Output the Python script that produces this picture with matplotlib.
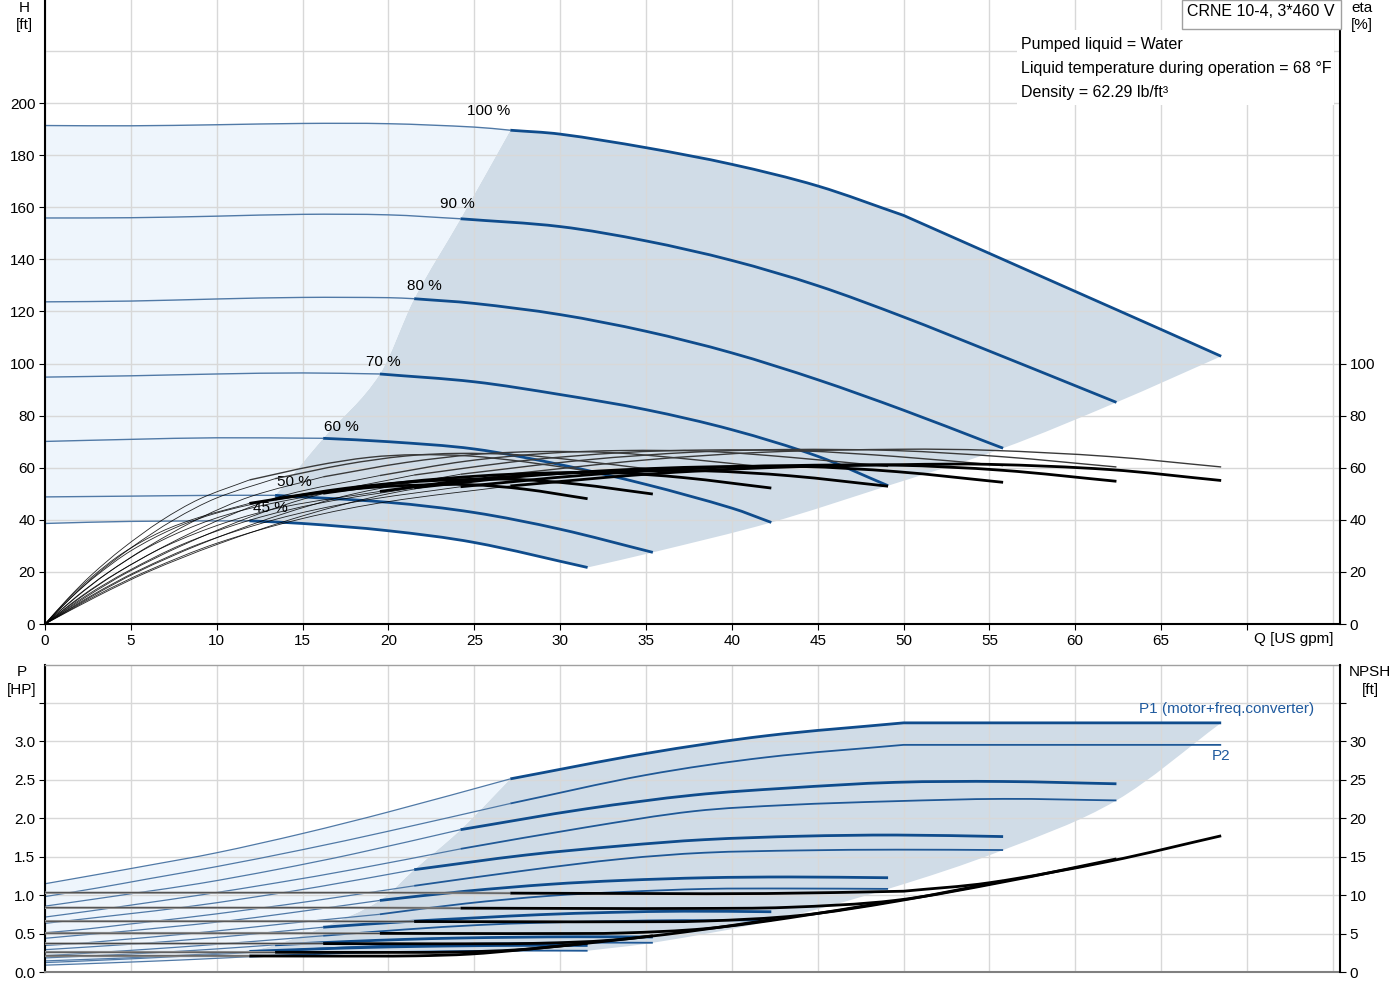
import matplotlib
matplotlib.use('Agg')
import matplotlib.pyplot as plt
from matplotlib.patches import Rectangle, PathPatch
from matplotlib.path import Path
import numpy as np

plt.rcParams['font.family'] = ['Liberation Sans', 'DejaVu Sans']
plt.rcParams['font.size'] = 10.5

# ---------------- data ----------------
speeds = ['100 %', '90 %', '80 %', '70 %', '60 %', '50 %', '45 %']
q_start = [27.1, 24.2, 21.5, 19.5, 16.2, 13.4, 11.9]
q_end = [68.5, 62.4, 55.8, 49.1, 42.3, 35.4, 31.6]
q_limit = 50  # power limit reached on the 100 % curve

# pump head curves H [ft] vs Q [US gpm]
Q_h100 = [0, 5, 10, 15, 20, 25, 27.1, 30, 35, 40, 45, 50, 55, 60, 65, 68.5]
H_100 = [191.4, 191.3, 191.7, 192.2, 192.1, 190.8, 189.6, 188.1, 182.9, 176.5, 168.2, 156.9, 142.3, 127.7, 113.1, 102.8]
Q_h90 = [0, 5, 10, 15, 20, 24.2, 30, 35, 40, 45, 50, 55, 60, 62.4]
H_90 = [155.9, 156.0, 156.6, 157.3, 157.1, 155.6, 152.6, 147.1, 139.6, 129.9, 117.9, 104.8, 91.5, 85.1]
Q_h80 = [0, 5, 10, 15, 20, 21.5, 25, 30, 35, 40, 45, 50, 55, 55.8]
H_80 = [123.7, 124.0, 124.8, 125.4, 125.3, 124.9, 123.1, 118.8, 112.4, 104.1, 93.8, 82.1, 69.5, 67.5]
Q_h70 = [0, 5, 10, 15, 19.5, 25, 30, 35, 40, 45, 49.1]
H_70 = [94.8, 95.3, 96.0, 96.4, 96.0, 93.0, 88.1, 82.3, 74.6, 64.4, 53.1]
Q_h60 = [0, 5, 10, 16.2, 20, 25, 30, 35, 40, 42.3]
H_60 = [70.1, 70.9, 71.5, 71.3, 70.0, 67.2, 61.2, 53.6, 44.5, 39.0]
Q_h50 = [0, 5, 10, 13.4, 20, 25, 30, 35.4]
H_50 = [48.8, 49.1, 49.4, 49.4, 46.7, 42.8, 36.4, 27.5]
Q_h45 = [0, 5, 11.9, 15, 20, 25, 31.6]
H_45 = [38.6, 39.4, 39.6, 38.6, 35.8, 31.3, 21.7]

# flow points for efficiency / power / NPSH curves
Q_g100 = [0, 3, 6, 10, 15, 20, 27.1, 35, 42, 50, 55, 62, 68.5]
Q_g90 = [0, 2.7, 5.4, 9, 13.5, 18, 24.2, 31.5, 37.8, 43.2, 49.5, 55.8, 62.4]
Q_g80 = [0, 2.4, 4.8, 8, 12, 16, 21.5, 28, 33.6, 38.4, 44, 49.6, 55.8]
Q_g70 = [0, 2.1, 4.2, 7, 10.5, 14, 19.5, 24.5, 29.4, 33.6, 38.5, 43.4, 49.1]
Q_g60 = [0, 1.8, 3.6, 6, 9, 12, 16.2, 21, 25.2, 28.8, 33, 37.2, 42.3]
Q_g50 = [0, 1.5, 3, 5, 7.5, 10, 13.4, 17.5, 21, 24, 27.5, 31, 35.4]
Q_g45 = [0, 1.35, 2.7, 4.5, 6.75, 9, 11.9, 15.75, 18.9, 21.6, 24.75, 27.9, 31.6]

# pump efficiency [%]
eta_p100 = [0, 10.5, 20, 30.5, 41.5, 50, 57.6, 63, 66, 67.1, 66.7, 64.3, 60.3]
eta_p90 = [0, 10.5, 20, 30.5, 41.5, 50, 57.5, 63, 66, 67, 66.6, 64.2, 60.3]
eta_p80 = [0, 10.4, 19.8, 30.2, 41.2, 49.7, 57.2, 62.8, 65.8, 66.8, 66.5, 64.3, 60.8]
eta_p70 = [0, 10.3, 19.6, 30, 41, 49.5, 57, 62.5, 65.6, 66.6, 66.3, 64, 60.5]
eta_p60 = [0, 10.2, 19.4, 29.7, 40.6, 49, 56.5, 62, 65.2, 66.2, 65.8, 63.5, 60]
eta_p50 = [0, 10, 19, 29.2, 40, 48.4, 55.8, 61.3, 64.5, 65.5, 65, 62.8, 59.3]
eta_p45 = [0, 9.9, 18.8, 28.9, 39.6, 48, 55.3, 60.8, 64, 65, 64.5, 62.3, 58.8]

# total efficiency (pump + motor + converter) [%]
eta_t100 = [0, 11, 20.5, 31, 40.5, 47, 53, 57.5, 60, 61.2, 61.3, 59.3, 55.1]
eta_t90 = [0, 10.9, 20.4, 30.8, 40.3, 46.8, 52.7, 57.2, 59.7, 60.8, 61.0, 59.0, 54.8]
eta_t80 = [0, 10.9, 20.2, 30.6, 40, 46.4, 52.3, 56.8, 59.2, 60.3, 60.5, 58.5, 54.4]
eta_t70 = [0, 10.6, 19.7, 29.8, 38.9, 45.1, 50.9, 55.2, 57.6, 58.7, 58.8, 56.9, 52.9]
eta_t60 = [0, 10.4, 19.4, 29.4, 38.4, 44.5, 50.2, 54.5, 56.8, 57.9, 58.1, 56.2, 52.2]
eta_t50 = [0, 10, 18.6, 28.1, 36.7, 42.6, 48, 52.1, 54.4, 55.4, 55.5, 53.7, 49.9]
eta_t45 = [0, 9.6, 17.9, 27.1, 35.4, 41, 46.3, 50.2, 52.4, 53.3, 53.5, 51.8, 48.1]

# P1 (motor + freq. converter) [HP]
P1_100 = [1.147, 1.265, 1.385, 1.55, 1.80, 2.08, 2.51, 2.84, 3.07, 3.238, 3.238, 3.238, 3.238]
P1_90 = [0.856, 0.942, 1.03, 1.15, 1.332, 1.536, 1.85, 2.12, 2.30, 2.39, 2.465, 2.476, 2.446]
P1_80 = [0.632, 0.693, 0.754, 0.839, 0.967, 1.11, 1.33, 1.52, 1.64, 1.72, 1.765, 1.78, 1.76]
P1_70 = [0.438, 0.48, 0.52, 0.58, 0.66, 0.76, 0.93, 1.05, 1.14, 1.19, 1.225, 1.235, 1.225]
P1_60 = [0.29, 0.315, 0.341, 0.377, 0.431, 0.491, 0.582, 0.655, 0.705, 0.745, 0.775, 0.79, 0.783]
P1_50 = [0.183, 0.198, 0.213, 0.234, 0.265, 0.30, 0.353, 0.395, 0.424, 0.441, 0.452, 0.458, 0.455]
P1_45 = [0.144, 0.155, 0.166, 0.181, 0.204, 0.229, 0.268, 0.299, 0.32, 0.332, 0.341, 0.346, 0.345]

# P2 (shaft power) [HP]
P2_100 = [0.98, 1.09, 1.21, 1.37, 1.59, 1.83, 2.19, 2.56, 2.79, 2.952, 2.952, 2.952, 2.952]
P2_90 = [0.714, 0.795, 0.882, 0.999, 1.159, 1.334, 1.60, 1.88, 2.09, 2.17, 2.22, 2.25, 2.23]
P2_80 = [0.51, 0.558, 0.62, 0.701, 0.814, 0.937, 1.12, 1.32, 1.47, 1.55, 1.58, 1.59, 1.585]
P2_70 = [0.345, 0.374, 0.415, 0.47, 0.545, 0.628, 0.75, 0.89, 0.99, 1.04, 1.08, 1.085, 1.08]
P2_60 = [0.212, 0.235, 0.261, 0.296, 0.343, 0.395, 0.471, 0.553, 0.61, 0.64, 0.66, 0.675, 0.666]
P2_50 = [0.123, 0.136, 0.151, 0.171, 0.199, 0.229, 0.273, 0.32, 0.349, 0.363, 0.376, 0.382, 0.38]
P2_45 = [0.089, 0.099, 0.11, 0.125, 0.145, 0.167, 0.199, 0.233, 0.254, 0.264, 0.273, 0.278, 0.276]

# NPSH [ft]
N_100 = [10.3, 10.3, 10.3, 10.3, 10.3, 10.3, 10.25, 10.2, 10.2, 10.5, 11.6, 14.4, 17.7]
N_90 = [8.35, 8.35, 8.35, 8.35, 8.35, 8.35, 8.3, 8.26, 8.26, 8.4, 9.3, 11.7, 14.7]
N_80 = [6.6, 6.6, 6.6, 6.6, 6.6, 6.6, 6.56, 6.53, 6.53, 6.62, 7.36, 9.2, 11.8]
N_70 = [5.05, 5.05, 5.05, 5.05, 5.05, 5.05, 5.02, 5.0, 5.0, 5.07, 5.64, 7.06, 9.1]
N_60 = [3.7, 3.7, 3.7, 3.7, 3.7, 3.7, 3.69, 3.67, 3.67, 3.73, 4.14, 5.18, 6.8]
N_50 = [2.58, 2.58, 2.58, 2.58, 2.58, 2.58, 2.56, 2.55, 2.55, 2.59, 2.88, 3.6, 4.7]
N_45 = [2.09, 2.09, 2.09, 2.09, 2.09, 2.09, 2.08, 2.07, 2.07, 2.1, 2.33, 2.92, 3.75]

x_ticks = [0, 5, 10, 15, 20, 25, 30, 35, 40, 45, 50, 55, 60, 65]
h_ticks = [0, 20, 40, 60, 80, 100, 120, 140, 160, 180, 200]
eta_ticks = [0, 20, 40, 60, 80, 100]
p_ticks = [0.0, 0.5, 1.0, 1.5, 2.0, 2.5, 3.0]
npsh_ticks = [0, 5, 10, 15, 20, 25, 30]

info_lines = ['Pumped liquid = Water',
              'Liquid temperature during operation = 68 \u00b0F',
              'Density = 62.29 lb/ft\u00b3']
title_box = 'CRNE 10-4, 3*460 V'

# ---------------- styling ----------------
BLUE = '#0f4c8c'
BLUE_THIN = '#5079a6'
DARK_FILL = '#d0dce7'
LIGHT_FILL = '#eef5fc'
GRID = '#d8d8d8'
label_offsets = [(-22, 19), (-3, 15), (10, 13), (3, 12), (18, 11), (19, 13), (21, 13)]

QH = [Q_h100, Q_h90, Q_h80, Q_h70, Q_h60, Q_h50, Q_h45]
HH = [H_100, H_90, H_80, H_70, H_60, H_50, H_45]
QG = [Q_g100, Q_g90, Q_g80, Q_g70, Q_g60, Q_g50, Q_g45]
EP = [eta_p100, eta_p90, eta_p80, eta_p70, eta_p60, eta_p50, eta_p45]
ET = [eta_t100, eta_t90, eta_t80, eta_t70, eta_t60, eta_t50, eta_t45]
P1 = [P1_100, P1_90, P1_80, P1_70, P1_60, P1_50, P1_45]
P2 = [P2_100, P2_90, P2_80, P2_70, P2_60, P2_50, P2_45]
NP = [N_100, N_90, N_80, N_70, N_60, N_50, N_45]


def split(Q, Y, qs):
    Q = np.asarray(Q, float)
    Y = np.asarray(Y, float)
    a = Q <= qs + 1e-9
    b = Q >= qs - 1e-9
    return (Q[a], Y[a]), (Q[b], Y[b])


def pieces(x, y, breaks=()):
    """cut a curve into pieces at break flows (kinks)."""
    x = np.asarray(x, float)
    y = np.asarray(y, float)
    out = [(x, y)]
    for b in breaks:
        new = []
        for px, py in out:
            if px[0] < b - 1e-9 and px[-1] > b + 1e-9 and np.any(np.abs(px - b) < 1e-9):
                k = int(np.argmin(np.abs(px - b)))
                new += [(px[:k + 1], py[:k + 1]), (px[k:], py[k:])]
            else:
                new.append((px, py))
        out = new
    return out


def val_at(Q, Y, q):
    return Y[list(Q).index(q)]


def curve_segs(x, y):
    """Bezier (cubic Hermite) segments through the given points."""
    x = np.asarray(x, float)
    y = np.asarray(y, float)
    n = len(x)
    dxs = np.diff(x)
    if n < 3 or np.any(np.abs(dxs) < 1e-9):
        return [(xi, yi) for xi, yi in zip(x[1:], y[1:])], [Path.LINETO] * (n - 1)
    m = np.empty(n)
    m[0] = (y[1] - y[0]) / (x[1] - x[0])
    m[-1] = (y[-1] - y[-2]) / (x[-1] - x[-2])
    m[1:-1] = (y[2:] - y[:-2]) / (x[2:] - x[:-2])
    verts, codes = [], []
    for i in range(n - 1):
        dx = x[i + 1] - x[i]
        verts += [(x[i] + dx / 3, y[i] + m[i] * dx / 3),
                  (x[i + 1] - dx / 3, y[i + 1] - m[i + 1] * dx / 3),
                  (x[i + 1], y[i + 1])]
        codes += [Path.CURVE4] * 3
    return verts, codes


def build_path(seqs, close=False):
    verts, codes = [], []
    for k, (x, y) in enumerate(seqs):
        verts.append((x[0], y[0]))
        codes.append(Path.MOVETO if k == 0 else Path.LINETO)
        v, c = curve_segs(x, y)
        verts += v
        codes += c
    if close:
        verts.append(verts[0])
        codes.append(Path.CLOSEPOLY)
    return Path(verts, codes)


def draw(a, x, y, breaks=(), **kw):
    a.add_patch(PathPatch(build_path(pieces(x, y, breaks)), fill=False,
                          capstyle='butt', joinstyle='round', **kw))


def fill(a, seqs, color):
    a.add_patch(PathPatch(build_path(seqs, close=True), facecolor=color,
                          edgecolor='none', lw=0, zorder=1))


fig = plt.figure(figsize=(14, 10), dpi=100)
W, Hfig = 1400.0, 1000.0
L, R = 45 / W, 1340 / W
ax = fig.add_axes([L, 1 - 624 / Hfig, R - L, 624 / Hfig])
ax2 = fig.add_axes([L, 1 - 972 / Hfig, R - L, (972 - 665) / Hfig])

XMAX = 75.42
for a in (ax, ax2):
    a.set_xlim(0, XMAX)
ax.set_ylim(0, 239.6)
ax2.set_ylim(0, 3.99)

# grids
for x in range(0, 80, 5):
    ax.axvline(x, color=GRID, lw=1, zorder=1.5)
    ax2.axvline(x, color=GRID, lw=1, zorder=1.5)
for y in range(0, 241, 20):
    ax.axhline(y, color=GRID, lw=1, zorder=1.5)
for y in np.arange(0, 4.01, 0.5):
    ax2.axhline(y, color=GRID, lw=1, zorder=1.5)

n = len(speeds)
brk = [[q_limit]] + [[] for _ in range(n - 1)]

# ---------------- top: fills ----------------
(q0, h0), (q1, h1) = split(QH[0], HH[0], q_start[0])
(a45, b45), (c45, d45) = split(QH[-1], HH[-1], q_start[-1])
ends_x = [q_end[i] for i in range(n)]
ends_y = [val_at(QH[i], HH[i], q_end[i]) for i in range(n)]
sts_x = [q_start[i] for i in range(n)]
sts_y = [val_at(QH[i], HH[i], q_start[i]) for i in range(n)]
fill(ax, pieces(q1, h1, [q_limit]) + [(ends_x, ends_y), (c45[::-1], d45[::-1]),
                                      (sts_x[::-1], sts_y[::-1])], DARK_FILL)
fill(ax, [(q0, h0), (sts_x, sts_y), (a45[::-1], b45[::-1])], LIGHT_FILL)

# head curves
for i in range(n):
    (qa, ha), (qb, hb) = split(QH[i], HH[i], q_start[i])
    draw(ax, qa, ha, edgecolor=BLUE_THIN, lw=1.0, zorder=2)
    draw(ax, qb, hb, brk[i], edgecolor=BLUE, lw=2.0, zorder=2.2)
    ax.annotate(speeds[i], (q_start[i], sts_y[i]), xytext=label_offsets[i],
                textcoords='offset pixels', ha='center', va='center',
                fontsize=11, zorder=5)

# efficiency curves on right axis
axe = ax.twinx()
axe.set_xlim(0, XMAX)
axe.set_ylim(0, 239.6)
for i in range(n):
    (qa, ea), (qb, eb) = split(QG[i], EP[i], q_start[i])
    draw(axe, qa, ea, edgecolor='black', lw=0.6, alpha=0.85, zorder=2)
    draw(axe, qb, eb, edgecolor='#3a3a3a', lw=1.0, zorder=2)
    (qa, ta), (qb, tb) = split(QG[i], ET[i], q_start[i])
    draw(axe, qa, ta, edgecolor='black', lw=0.6, alpha=0.85, zorder=2)
    draw(axe, qb, tb, edgecolor='black', lw=2.0, zorder=2.2)

# ---------------- bottom: fills ----------------
(q0, p0), (q1, p1) = split(QG[0], P1[0], q_start[0])
(a45, b45), (c45, d45) = split(QG[-1], P2[-1], q_start[-1])
e2x = [q_end[0]] + [q_end[i] for i in range(1, n)]
e2y = [P1[0][-1]] + [P2[i][-1] for i in range(1, n)]
s1x = [q_start[i] for i in range(n)]
s1y = [val_at(QG[i], P1[i], q_start[i]) for i in range(n)]
fill(ax2, pieces(q1, p1, [q_limit]) + [(e2x, e2y), (c45[::-1], d45[::-1]),
                                       (s1x[::-1], s1y[::-1])], DARK_FILL)
fill(ax2, [(q0, p0), (s1x, s1y), (a45[::-1], b45[::-1])], LIGHT_FILL)

for i in range(n):
    (qa, pa), (qb, pb) = split(QG[i], P2[i], q_start[i])
    draw(ax2, qa, pa, edgecolor=BLUE_THIN, lw=0.9, zorder=2)
    draw(ax2, qb, pb, brk[i], edgecolor='#1f5896', lw=1.3, zorder=2)
    (qa, pa), (qb, pb) = split(QG[i], P1[i], q_start[i])
    draw(ax2, qa, pa, edgecolor=BLUE_THIN, lw=0.9, zorder=2)
    draw(ax2, qb, pb, brk[i], edgecolor=BLUE, lw=2.0, zorder=2.2)

axn = ax2.twinx()
axn.set_xlim(0, XMAX)
axn.set_ylim(0, 39.9)
for i in range(n):
    (qa, na), (qb, nb) = split(QG[i], NP[i], q_start[i])
    draw(axn, qa, na, edgecolor='#a0a0a0', lw=1.8, zorder=2)
    draw(axn, qa, na, edgecolor='#222222', lw=0.5, zorder=2)
    draw(axn, qb, nb, brk[i], edgecolor='black', lw=2.0, zorder=2)

ax2.text(73.9, 3.42, 'P1 (motor+freq.converter)', color='#1f5a9e',
         ha='right', va='center', fontsize=11, zorder=5)
ax2.text(q_end[0], P2[0][-1] - 0.14, 'P2', color='#1f5a9e',
         ha='center', va='center', fontsize=11, zorder=5)

# ---------------- axes styling ----------------
for a in (ax, axe, ax2, axn):
    for s in a.spines.values():
        s.set_visible(False)
ax.spines['left'].set_visible(True)
ax.spines['bottom'].set_visible(True)
axe.spines['right'].set_visible(True)
for s in (ax.spines['left'], ax.spines['bottom'], axe.spines['right']):
    s.set_color('black'); s.set_linewidth(1.5)
ax2.spines['left'].set_visible(True)
ax2.spines['left'].set_color('black'); ax2.spines['left'].set_linewidth(1.5)
ax2.spines['bottom'].set_visible(True)
ax2.spines['bottom'].set_color('#808080'); ax2.spines['bottom'].set_linewidth(1.5)
ax2.spines['top'].set_visible(True)
ax2.spines['top'].set_color('#a0a0a0'); ax2.spines['top'].set_linewidth(1)
axn.spines['right'].set_visible(True)
axn.spines['right'].set_color('black'); axn.spines['right'].set_linewidth(1.5)

ax.set_xticks(x_ticks + [70])
ax.set_xticklabels([str(v) for v in x_ticks] + [''])
ax.tick_params(axis='x', length=4, pad=3, labelsize=11)
ax.set_yticks(h_ticks)
ax.set_yticklabels([str(v) for v in h_ticks])
ax.tick_params(axis='y', length=4, pad=3, labelsize=11)
axe.set_yticks(eta_ticks)
axe.set_yticklabels([str(v) for v in eta_ticks])
axe.tick_params(axis='y', length=4, pad=3, labelsize=11)

ax2.set_xticks([])
ax2.set_yticks(p_ticks + [3.5])
ax2.set_yticklabels(['%.1f' % v for v in p_ticks] + [''])
ax2.tick_params(axis='y', length=4, pad=3, labelsize=11)
axn.set_yticks(npsh_ticks + [35])
axn.set_yticklabels([str(v) for v in npsh_ticks] + [''])
axn.tick_params(axis='y', length=4, pad=3, labelsize=11)
axn.set_xticks([])


def ftext(xp, yp, s, **kw):
    fig.text(xp / W, 1 - yp / Hfig, s, ha='center', va='center', fontsize=11, **kw)


ftext(24, 8, 'H'); ftext(24, 25, '[ft]')
ftext(1362, 8, 'eta'); ftext(1362, 25, '[%]')
ftext(22, 672, 'P'); ftext(22, 690, '[HP]')
ftext(1370, 672, 'NPSH'); ftext(1370, 690, '[ft]')
fig.text(1334 / W, 1 - 639 / Hfig, 'Q [US gpm]', ha='right', va='center', fontsize=11)

# info box
fig.patches.append(Rectangle((1017 / W, 1 - 105 / Hfig), (1334 - 1017) / W, 75 / Hfig,
                             transform=fig.transFigure, facecolor='white',
                             edgecolor='none', zorder=3))
for k, s in enumerate(info_lines):
    fig.text(1021 / W, 1 - (44 + 24 * k) / Hfig, s, ha='left', va='center',
             fontsize=11.5, zorder=4)
fig.patches.append(Rectangle((1182 / W, 1 - 29 / Hfig), (1341 - 1182) / W, 29 / Hfig,
                             transform=fig.transFigure, facecolor='white',
                             edgecolor='#a0a0a0', lw=1, zorder=3))
fig.text(1261 / W, 1 - 12 / Hfig, title_box, ha='center', va='center', fontsize=11.5, zorder=4)

fig.savefig('out.png', dpi=100)
